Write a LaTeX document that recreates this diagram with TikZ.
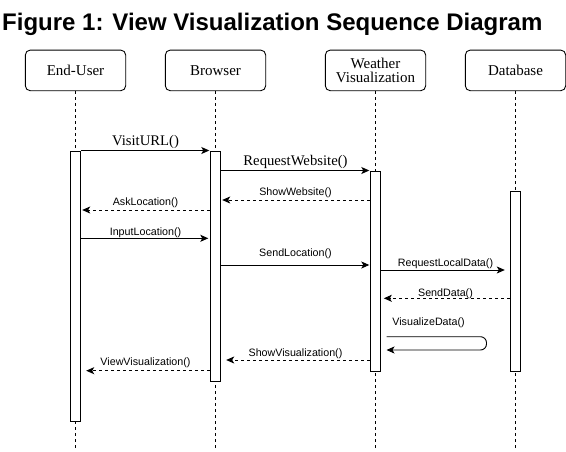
\documentclass[tikz,border=0pt]{standalone}
\usepackage{fontspec}
\setmainfont{Liberation Serif}
\setsansfont{Liberation Sans}
\usetikzlibrary{positioning,arrows.meta,calc}
\def\headW{100.4}
\def\headH{40.7}
\def\barW{10.5}
\def\lineW{0.9pt}
\tikzset
{
  Head/.style=
  {
    draw,
    line width=\lineW,
    rounded corners=5pt,
    minimum width=\headW pt,
    minimum height=\headH pt,
    inner sep=0pt,
    align=center,
    font=\fontsize{15}{14}\selectfont,
  },
  Bar/.style=
  {
    draw,
    line width=\lineW,
    fill=white,
    minimum width=\barW pt,
    minimum height=#1pt,
    inner sep=0pt,
    anchor=north,
  },
  Life/.style={line width=0.8pt, dash pattern=on 3pt off 3pt},
  Call/.style=
  {
    line width=\lineW,
    -{Stealth[length=8pt,width=7pt,inset=2pt]},
    shorten >=#1,
  },
  Call/.default=0.5pt,
  Reply/.style={Call=#1, dash pattern=on 3pt off 3pt},
  Reply/.default=0.5pt,
  Msg/.style=
  {
    midway,
    anchor=base,
    yshift=#1,
    inner sep=0pt,
    font=\sffamily\fontsize{10.7}{12}\selectfont,
  },
}

\begin{document}
\begin{tikzpicture}
[
  x=1pt, y=-1pt,
  node distance=38.7pt, % space between heads
]
\useasboundingbox (0,0) rectangle (566,451);
\node (title) [anchor=base west, inner sep=0pt, font=\sffamily\bfseries\fontsize{24}{28}\selectfont]
  at (2,30) {Figure 1: View Visualization Sequence Diagram};

% heads of the lifelines
\node (user) [Head] at (75.5,70.4) {End-User};
\node (browser) [Head, right=of user] {Browser};
\node (weather) [Head, right=58.7pt of browser] {Weather\\Visualization};
\node (db) [Head, right=of weather] {Database};

\coordinate (bottom) at (0,451);
\foreach \n in {user,browser,weather,db}
  \draw [Life] (\n.south) -- (\n.south |- bottom);

% activation bars
\node (userBar) [Bar=270] at (user.south |- 0,150.5) {};
\node (browserBar) [Bar=230] at (browser.south |- 0,150.5) {};
\node (weatherBar) [Bar=200] at (weather.south |- 0,170.5) {};
\node (dbBar) [Bar=180] at (db.south |- 0,190.5) {};

% messages
\draw [Call] (userBar.north east) -- (browserBar.north west)
  node [Msg=4.7pt, font=\fontsize{14.7}{16}\selectfont] {VisitURL()};
\draw [Call] (browserBar.east |- weatherBar.north) -- (weatherBar.north west)
  node [Msg=5pt, font=\fontsize{14.7}{16}\selectfont] {RequestWebsite()};
\draw [Reply=1pt] (weatherBar.west |- 0,200) -- (browserBar.east |- 0,200)
  node [Msg=4.3pt] {ShowWebsite()};
\draw [Reply=1pt] (browserBar.west |- 0,210) -- (userBar.east |- 0,210)
  node [Msg=4.3pt] {AskLocation()};
\draw [Call=1.5pt] (userBar.east |- 0,238.3) -- (browserBar.west |- 0,238.3)
  node [Msg=3.3pt] {InputLocation()};
\draw [Call] (browserBar.east |- 0,265) -- (weatherBar.west |- 0,265)
  node [Msg=9pt] {SendLocation()};
\draw [Call=5pt] (weatherBar.east |- 0,270) -- (dbBar.west |- 0,270)
  node [Msg=4pt] {RequestLocalData()};
\draw [Reply=2.6pt] (dbBar.west |- 0,298.3) -- (weatherBar.east |- 0,298.3)
  node [Msg=2.3pt] {SendData()};

\coordinate (visLoop) at ($(weatherBar.east)+(105.3,0)$);
\draw [Call=5.3pt, shorten <=5.3pt, rounded corners=6pt]
  (weatherBar.east |- 0,336.7) -| (visLoop |- 0,350) -- (weatherBar.east |- 0,350);
\node (visLbl) [anchor=base west, inner sep=0pt, font=\sffamily\fontsize{10.7}{12}\selectfont]
  at ($(weatherBar.east |- 0,325)+(11,0)$) {VisualizeData()};

\draw [Reply=5pt] (weatherBar.west |- 0,360) -- (browserBar.east |- 0,360)
  node [Msg=4pt] {ShowVisualization()};
\draw [Reply=5pt] (browserBar.west |- 0,370.7) -- (userBar.east |- 0,370.7)
  node [Msg=5pt] {ViewVisualization()};
\end{tikzpicture}
\end{document}
